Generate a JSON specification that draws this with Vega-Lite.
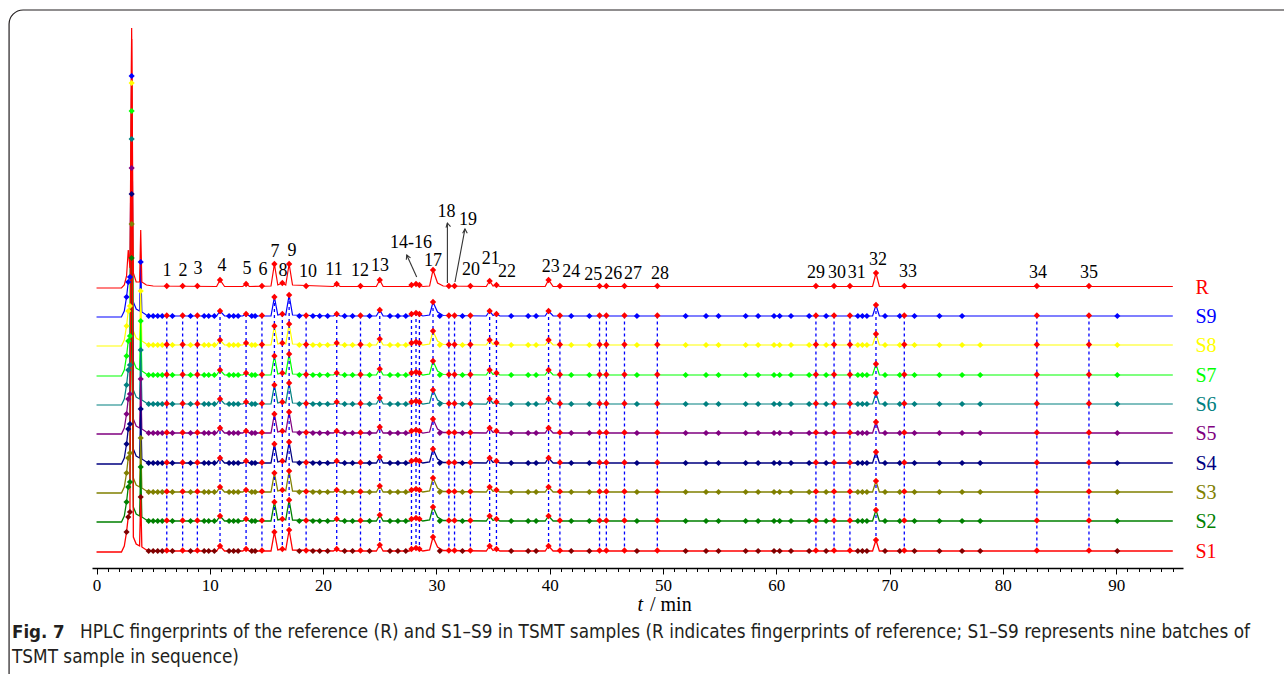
{
"$schema":"https://vega.github.io/schema/vega-lite/v6.json",
"autosize":{"type":"none"},
"padding":{"left":92,"top":18,"right":101,"bottom":106},
"width":1091,"height":550,
"background":"white",
"config":{"view":{"stroke":null}},
"datasets":{
"one":[{}],
"grid":[
{"t":0,"R":280,"S9":251,"S8":222,"S7":192,"S6":163,"S5":134,"S4":104,"S3":75,"S2":46,"S1":16},
{"t":2.2,"R":280,"S9":251,"S8":222,"S7":192,"S6":163,"S5":134,"S4":104,"S3":75,"S2":46,"S1":16},
{"t":2.45,"R":283,"S9":257,"S8":228,"S7":198,"S6":169,"S5":140,"S4":110,"S3":81,"S2":52,"S1":22},
{"t":2.65,"R":292,"S9":271,"S8":242,"S7":212,"S6":183,"S5":154,"S4":124,"S3":95,"S2":66,"S1":36},
{"t":2.8,"R":318,"S9":286,"S8":257,"S7":227,"S6":198,"S5":169,"S4":139,"S3":110,"S2":81,"S1":51},
{"t":2.95,"R":300,"S9":291,"S8":262,"S7":232,"S6":203,"S5":174,"S4":144,"S3":115,"S2":86,"S1":56},
{"t":3.1,"R":540,"S9":492,"S8":485,"S7":457,"S6":429,"S5":400,"S4":374,"S3":344,"S2":310,"S1":529},
{"t":3.25,"R":295,"S9":266,"S8":237,"S7":207,"S6":178,"S5":149,"S4":119,"S3":90,"S2":61,"S1":31},
{"t":3.5,"R":286,"S9":259,"S8":230,"S7":200,"S6":171,"S5":142,"S4":112,"S3":83,"S2":54,"S1":24},
{"t":3.8,"R":286,"S9":257,"S8":228,"S7":198,"S6":169,"S5":140,"S4":110,"S3":81,"S2":52,"S1":22},
{"t":3.9,"R":338,"S9":306,"S8":277,"S7":247,"S6":218,"S5":189,"S4":159,"S3":130,"S2":101,"S1":71},
{"t":4.0,"R":286,"S9":256,"S8":227,"S7":197,"S6":168,"S5":139,"S4":109,"S3":80,"S2":51,"S1":21},
{"t":4.4,"R":283,"S9":253,"S8":224,"S7":194,"S6":165,"S5":136,"S4":106,"S3":77,"S2":48,"S1":18},
{"t":5.0,"R":282,"S9":252,"S8":223,"S7":193,"S6":164,"S5":135,"S4":105,"S3":76,"S2":47,"S1":17},
{"t":10.6,"R":281.5,"S9":252,"S8":223,"S7":193,"S6":164,"S5":135,"S4":105,"S3":76,"S2":47,"S1":17},
{"t":10.9,"R":288,"S9":257,"S8":228,"S7":198,"S6":169,"S5":140,"S4":110,"S3":81,"S2":52,"S1":22},
{"t":11.3,"R":281.5,"S9":252,"S8":223,"S7":193,"S6":164,"S5":135,"S4":105,"S3":76,"S2":47,"S1":17},
{"t":12.9,"R":281.5,"S9":252,"S8":223,"S7":193,"S6":164,"S5":135,"S4":105,"S3":76,"S2":47,"S1":17},
{"t":13.2,"R":284,"S9":254,"S8":225,"S7":195,"S6":166,"S5":137,"S4":107,"S3":78,"S2":49,"S1":19},
{"t":13.5,"R":281.5,"S9":252,"S8":223,"S7":193,"S6":164,"S5":135,"S4":105,"S3":76,"S2":47,"S1":17},
{"t":15.4,"R":282,"S9":252,"S8":223,"S7":193,"S6":164,"S5":135,"S4":105,"S3":76,"S2":47,"S1":17},
{"t":15.7,"R":304,"S9":271,"S8":242,"S7":212,"S6":183,"S5":154,"S4":124,"S3":95,"S2":66,"S1":36},
{"t":16.0,"R":283,"S9":253,"S8":224,"S7":194,"S6":165,"S5":136,"S4":106,"S3":77,"S2":48,"S1":18},
{"t":16.4,"R":285,"S9":254,"S8":225,"S7":195,"S6":166,"S5":137,"S4":107,"S3":78,"S2":49,"S1":19},
{"t":16.7,"R":283,"S9":253,"S8":224,"S7":194,"S6":165,"S5":136,"S4":106,"S3":77,"S2":48,"S1":18},
{"t":17.0,"R":304,"S9":273,"S8":244,"S7":214,"S6":185,"S5":156,"S4":126,"S3":97,"S2":68,"S1":38},
{"t":17.3,"R":283,"S9":253,"S8":224,"S7":194,"S6":165,"S5":136,"S4":106,"S3":77,"S2":48,"S1":18},
{"t":20.9,"R":281.5,"S9":252,"S8":223,"S7":193,"S6":164,"S5":135,"S4":105,"S3":76,"S2":47,"S1":17},
{"t":21.2,"R":284,"S9":254,"S8":225,"S7":195,"S6":166,"S5":137,"S4":107,"S3":78,"S2":49,"S1":19},
{"t":21.5,"R":281.5,"S9":252,"S8":223,"S7":193,"S6":164,"S5":135,"S4":105,"S3":76,"S2":47,"S1":17},
{"t":24.7,"R":281.5,"S9":252,"S8":223,"S7":193,"S6":164,"S5":135,"S4":105,"S3":76,"S2":47,"S1":17},
{"t":25.0,"R":288,"S9":258,"S8":229,"S7":199,"S6":170,"S5":141,"S4":111,"S3":82,"S2":53,"S1":23},
{"t":25.3,"R":281.5,"S9":252,"S8":223,"S7":193,"S6":164,"S5":135,"S4":105,"S3":76,"S2":47,"S1":17},
{"t":27.6,"R":281.5,"S9":252,"S8":223,"S7":193,"S6":164,"S5":135,"S4":105,"S3":76,"S2":47,"S1":17},
{"t":28.2,"R":284,"S9":255,"S8":226,"S7":196,"S6":167,"S5":138,"S4":108,"S3":79,"S2":50,"S1":20},
{"t":28.8,"R":281.5,"S9":252,"S8":223,"S7":193,"S6":164,"S5":135,"S4":105,"S3":76,"S2":47,"S1":17},
{"t":29.4,"R":282,"S9":253,"S8":224,"S7":194,"S6":165,"S5":136,"S4":106,"S3":77,"S2":48,"S1":18},
{"t":29.7,"R":298,"S9":266,"S8":237,"S7":207,"S6":178,"S5":149,"S4":119,"S3":90,"S2":61,"S1":31},
{"t":30.1,"R":285,"S9":256,"S8":227,"S7":197,"S6":168,"S5":139,"S4":109,"S3":80,"S2":51,"S1":21},
{"t":30.6,"R":282,"S9":252.5,"S8":223.5,"S7":193.5,"S6":164.5,"S5":135.5,"S4":105.5,"S3":76.5,"S2":47.5,"S1":17.5},
{"t":34.4,"R":281.5,"S9":252,"S8":223,"S7":193,"S6":164,"S5":135,"S4":105,"S3":76,"S2":47,"S1":17},
{"t":34.7,"R":287,"S9":257,"S8":228,"S7":198,"S6":169,"S5":140,"S4":110,"S3":81,"S2":52,"S1":22},
{"t":35.0,"R":282,"S9":252.5,"S8":223.5,"S7":193.5,"S6":164.5,"S5":135.5,"S4":105.5,"S3":76.5,"S2":47.5,"S1":17.5},
{"t":35.3,"R":283,"S9":254,"S8":225,"S7":195,"S6":166,"S5":137,"S4":107,"S3":78,"S2":49,"S1":19},
{"t":35.6,"R":281.5,"S9":252,"S8":223,"S7":193,"S6":164,"S5":135,"S4":105,"S3":76,"S2":47,"S1":17},
{"t":39.6,"R":281.5,"S9":252,"S8":223,"S7":193,"S6":164,"S5":135,"S4":105,"S3":76,"S2":47,"S1":17},
{"t":39.9,"R":288,"S9":257,"S8":228,"S7":198,"S6":169,"S5":140,"S4":110,"S3":81,"S2":52,"S1":22},
{"t":40.3,"R":281.5,"S9":252,"S8":223,"S7":193,"S6":164,"S5":135,"S4":105,"S3":76,"S2":47,"S1":17},
{"t":68.5,"R":281.5,"S9":252,"S8":223,"S7":193,"S6":164,"S5":135,"S4":105,"S3":76,"S2":47,"S1":17},
{"t":68.8,"R":295,"S9":263,"S8":234,"S7":204,"S6":175,"S5":146,"S4":116,"S3":87,"S2":58,"S1":28},
{"t":69.1,"R":281.5,"S9":252,"S8":223,"S7":193,"S6":164,"S5":135,"S4":105,"S3":76,"S2":47,"S1":17},
{"t":95,"R":281.5,"S9":252,"S8":223,"S7":193,"S6":164,"S5":135,"S4":105,"S3":76,"S2":47,"S1":17}
],
"peaks":[
{"n":"1","t":6.2,"R":282,"S9":252.5,"S8":223.5,"S7":193.5,"S6":164.5,"S5":135.5,"S4":105.5,"S3":76.5,"S2":47.5,"S1":17.5},
{"n":"2","t":7.6,"R":282,"S9":252.5,"S8":223.5,"S7":193.5,"S6":164.5,"S5":135.5,"S4":105.5,"S3":76.5,"S2":47.5,"S1":17.5},
{"n":"3","t":8.9,"R":282,"S9":252.5,"S8":223.5,"S7":193.5,"S6":164.5,"S5":135.5,"S4":105.5,"S3":76.5,"S2":47.5,"S1":17.5},
{"n":"4","t":10.9,"R":288,"S9":257,"S8":228,"S7":198,"S6":169,"S5":140,"S4":110,"S3":81,"S2":52,"S1":22},
{"n":"5","t":13.2,"R":284,"S9":254,"S8":225,"S7":195,"S6":166,"S5":137,"S4":107,"S3":78,"S2":49,"S1":19},
{"n":"6","t":14.6,"R":282,"S9":252.5,"S8":223.5,"S7":193.5,"S6":164.5,"S5":135.5,"S4":105.5,"S3":76.5,"S2":47.5,"S1":17.5},
{"n":"7","t":15.7,"R":304,"S9":271,"S8":242,"S7":212,"S6":183,"S5":154,"S4":124,"S3":95,"S2":66,"S1":36},
{"n":"8","t":16.4,"R":285,"S9":254,"S8":225,"S7":195,"S6":166,"S5":137,"S4":107,"S3":78,"S2":49,"S1":19},
{"n":"9","t":17.0,"R":304,"S9":273,"S8":244,"S7":214,"S6":185,"S5":156,"S4":126,"S3":97,"S2":68,"S1":38},
{"n":"10","t":18.5,"R":282,"S9":252.5,"S8":223.5,"S7":193.5,"S6":164.5,"S5":135.5,"S4":105.5,"S3":76.5,"S2":47.5,"S1":17.5},
{"n":"11","t":21.2,"R":284,"S9":254,"S8":225,"S7":195,"S6":166,"S5":137,"S4":107,"S3":78,"S2":49,"S1":19},
{"n":"12","t":23.3,"R":282,"S9":252.5,"S8":223.5,"S7":193.5,"S6":164.5,"S5":135.5,"S4":105.5,"S3":76.5,"S2":47.5,"S1":17.5},
{"n":"13","t":25.0,"R":288,"S9":258,"S8":229,"S7":199,"S6":170,"S5":141,"S4":111,"S3":82,"S2":53,"S1":23},
{"n":"14","t":27.8,"R":283,"S9":254,"S8":225,"S7":195,"S6":166,"S5":137,"S4":107,"S3":78,"S2":49,"S1":19},
{"n":"15","t":28.2,"R":284,"S9":255,"S8":226,"S7":196,"S6":167,"S5":138,"S4":108,"S3":79,"S2":50,"S1":20},
{"n":"16","t":28.5,"R":283,"S9":254,"S8":225,"S7":195,"S6":166,"S5":137,"S4":107,"S3":78,"S2":49,"S1":19},
{"n":"17","t":29.7,"R":298,"S9":266,"S8":237,"S7":207,"S6":178,"S5":149,"S4":119,"S3":90,"S2":61,"S1":31},
{"n":"18","t":31.1,"R":282,"S9":252.5,"S8":223.5,"S7":193.5,"S6":164.5,"S5":135.5,"S4":105.5,"S3":76.5,"S2":47.5,"S1":17.5},
{"n":"19","t":31.6,"R":282,"S9":252.5,"S8":223.5,"S7":193.5,"S6":164.5,"S5":135.5,"S4":105.5,"S3":76.5,"S2":47.5,"S1":17.5},
{"n":"20","t":33.0,"R":282,"S9":252.5,"S8":223.5,"S7":193.5,"S6":164.5,"S5":135.5,"S4":105.5,"S3":76.5,"S2":47.5,"S1":17.5},
{"n":"21","t":34.7,"R":287,"S9":257,"S8":228,"S7":198,"S6":169,"S5":140,"S4":110,"S3":81,"S2":52,"S1":22},
{"n":"22","t":35.3,"R":283,"S9":254,"S8":225,"S7":195,"S6":166,"S5":137,"S4":107,"S3":78,"S2":49,"S1":19},
{"n":"23","t":39.9,"R":288,"S9":257,"S8":228,"S7":198,"S6":169,"S5":140,"S4":110,"S3":81,"S2":52,"S1":22},
{"n":"24","t":40.9,"R":282,"S9":252.5,"S8":223.5,"S7":193.5,"S6":164.5,"S5":135.5,"S4":105.5,"S3":76.5,"S2":47.5,"S1":17.5},
{"n":"25","t":44.4,"R":282,"S9":252.5,"S8":223.5,"S7":193.5,"S6":164.5,"S5":135.5,"S4":105.5,"S3":76.5,"S2":47.5,"S1":17.5},
{"n":"26","t":45.0,"R":282,"S9":252.5,"S8":223.5,"S7":193.5,"S6":164.5,"S5":135.5,"S4":105.5,"S3":76.5,"S2":47.5,"S1":17.5},
{"n":"27","t":46.6,"R":282,"S9":252.5,"S8":223.5,"S7":193.5,"S6":164.5,"S5":135.5,"S4":105.5,"S3":76.5,"S2":47.5,"S1":17.5},
{"n":"28","t":49.5,"R":282,"S9":252.5,"S8":223.5,"S7":193.5,"S6":164.5,"S5":135.5,"S4":105.5,"S3":76.5,"S2":47.5,"S1":17.5},
{"n":"29","t":63.5,"R":282,"S9":252.5,"S8":223.5,"S7":193.5,"S6":164.5,"S5":135.5,"S4":105.5,"S3":76.5,"S2":47.5,"S1":17.5},
{"n":"30","t":65.1,"R":282,"S9":252.5,"S8":223.5,"S7":193.5,"S6":164.5,"S5":135.5,"S4":105.5,"S3":76.5,"S2":47.5,"S1":17.5},
{"n":"31","t":66.5,"R":282,"S9":252.5,"S8":223.5,"S7":193.5,"S6":164.5,"S5":135.5,"S4":105.5,"S3":76.5,"S2":47.5,"S1":17.5},
{"n":"32","t":68.8,"R":295,"S9":263,"S8":234,"S7":204,"S6":175,"S5":146,"S4":116,"S3":87,"S2":58,"S1":28},
{"n":"33","t":71.3,"R":282,"S9":252.5,"S8":223.5,"S7":193.5,"S6":164.5,"S5":135.5,"S4":105.5,"S3":76.5,"S2":47.5,"S1":17.5},
{"n":"34","t":83.0,"R":282,"S9":252.5,"S8":223.5,"S7":193.5,"S6":164.5,"S5":135.5,"S4":105.5,"S3":76.5,"S2":47.5,"S1":17.5},
{"n":"35","t":87.6,"R":282,"S9":252.5,"S8":223.5,"S7":193.5,"S6":164.5,"S5":135.5,"S4":105.5,"S3":76.5,"S2":47.5,"S1":17.5}
],
"extras":[
{"t":2.65,"S9":271,"S8":242,"S7":212,"S6":183,"S5":154,"S4":124,"S3":95,"S2":66,"S1":36},
{"t":2.8,"S9":286,"S8":257,"S7":227,"S6":198,"S5":169,"S4":139,"S3":110,"S2":81,"S1":51},
{"t":2.95,"S9":291,"S8":262,"S7":232,"S6":203,"S5":174,"S4":144,"S3":115,"S2":86,"S1":56},
{"t":3.1,"S9":492,"S8":485,"S7":457,"S6":429,"S5":400,"S4":374,"S3":344,"S2":310},
{"t":3.9,"S9":306,"S8":277,"S7":247,"S6":218,"S5":189,"S4":159,"S3":130,"S2":101,"S1":71},
{"t":4.6,"S9":252,"S8":223,"S7":193,"S6":164,"S5":135,"S4":105,"S3":76,"S2":47,"S1":17},
{"t":5.0,"S9":252,"S8":223,"S7":193,"S6":164,"S5":135,"S4":105,"S3":76,"S2":47,"S1":17},
{"t":5.4,"S9":252,"S8":223,"S7":193,"S6":164,"S5":135,"S4":105,"S3":76,"S2":47,"S1":17},
{"t":5.8,"S9":252,"S8":223,"S7":193,"S6":164,"S5":135,"S4":105,"S3":76,"S2":47,"S1":17},
{"t":6.7,"S9":252,"S8":223,"S7":193,"S6":164,"S5":135,"S4":105,"S3":76,"S2":47,"S1":17},
{"t":8.3,"S9":252,"S8":223,"S7":193,"S6":164,"S5":135,"S4":105,"S3":76,"S2":47,"S1":17},
{"t":9.5,"S9":252,"S8":223,"S7":193,"S6":164,"S5":135,"S4":105,"S3":76,"S2":47,"S1":17},
{"t":9.9,"S9":252,"S8":223,"S7":193,"S6":164,"S5":135,"S4":105,"S3":76,"S2":47,"S1":17},
{"t":10.4,"S9":252,"S8":223,"S7":193,"S6":164,"S5":135,"S4":105,"S3":76,"S2":47,"S1":17},
{"t":11.7,"S9":252,"S8":223,"S7":193,"S6":164,"S5":135,"S4":105,"S3":76,"S2":47,"S1":17},
{"t":12.1,"S9":252,"S8":223,"S7":193,"S6":164,"S5":135,"S4":105,"S3":76,"S2":47,"S1":17},
{"t":12.5,"S9":252,"S8":223,"S7":193,"S6":164,"S5":135,"S4":105,"S3":76,"S2":47,"S1":17},
{"t":13.7,"S9":252,"S8":223,"S7":193,"S6":164,"S5":135,"S4":105,"S3":76,"S2":47,"S1":17},
{"t":14.0,"S9":252,"S8":223,"S7":193,"S6":164,"S5":135,"S4":105,"S3":76,"S2":47,"S1":17},
{"t":17.9,"S9":252,"S8":223,"S7":193,"S6":164,"S5":135,"S4":105,"S3":76,"S2":47,"S1":17},
{"t":19.1,"S9":252,"S8":223,"S7":193,"S6":164,"S5":135,"S4":105,"S3":76,"S2":47,"S1":17},
{"t":19.7,"S9":252,"S8":223,"S7":193,"S6":164,"S5":135,"S4":105,"S3":76,"S2":47,"S1":17},
{"t":20.4,"S9":252,"S8":223,"S7":193,"S6":164,"S5":135,"S4":105,"S3":76,"S2":47,"S1":17},
{"t":21.9,"S9":252,"S8":223,"S7":193,"S6":164,"S5":135,"S4":105,"S3":76,"S2":47,"S1":17},
{"t":22.6,"S9":252,"S8":223,"S7":193,"S6":164,"S5":135,"S4":105,"S3":76,"S2":47,"S1":17},
{"t":24.1,"S9":252,"S8":223,"S7":193,"S6":164,"S5":135,"S4":105,"S3":76,"S2":47,"S1":17},
{"t":25.9,"S9":252,"S8":223,"S7":193,"S6":164,"S5":135,"S4":105,"S3":76,"S2":47,"S1":17},
{"t":26.6,"S9":252,"S8":223,"S7":193,"S6":164,"S5":135,"S4":105,"S3":76,"S2":47,"S1":17},
{"t":27.3,"S9":252,"S8":223,"S7":193,"S6":164,"S5":135,"S4":105,"S3":76,"S2":47,"S1":17},
{"t":30.3,"S9":252,"S8":223,"S7":193,"S6":164,"S5":135,"S4":105,"S3":76,"S2":47,"S1":17},
{"t":32.3,"S9":252,"S8":223,"S7":193,"S6":164,"S5":135,"S4":105,"S3":76,"S2":47,"S1":17},
{"t":36.6,"S9":252,"S8":223,"S7":193,"S6":164,"S5":135,"S4":105,"S3":76,"S2":47,"S1":17},
{"t":38.1,"S9":252,"S8":223,"S7":193,"S6":164,"S5":135,"S4":105,"S3":76,"S2":47,"S1":17},
{"t":38.8,"S9":252,"S8":223,"S7":193,"S6":164,"S5":135,"S4":105,"S3":76,"S2":47,"S1":17},
{"t":41.9,"S9":252,"S8":223,"S7":193,"S6":164,"S5":135,"S4":105,"S3":76,"S2":47,"S1":17},
{"t":43.5,"S9":252,"S8":223,"S7":193,"S6":164,"S5":135,"S4":105,"S3":76,"S2":47,"S1":17},
{"t":47.7,"S9":252,"S8":223,"S7":193,"S6":164,"S5":135,"S4":105,"S3":76,"S2":47,"S1":17},
{"t":52.0,"S9":252,"S8":223,"S7":193,"S6":164,"S5":135,"S4":105,"S3":76,"S2":47,"S1":17},
{"t":53.8,"S9":252,"S8":223,"S7":193,"S6":164,"S5":135,"S4":105,"S3":76,"S2":47,"S1":17},
{"t":54.9,"S9":252,"S8":223,"S7":193,"S6":164,"S5":135,"S4":105,"S3":76,"S2":47,"S1":17},
{"t":57.3,"S9":252,"S8":223,"S7":193,"S6":164,"S5":135,"S4":105,"S3":76,"S2":47,"S1":17},
{"t":58.4,"S9":252,"S8":223,"S7":193,"S6":164,"S5":135,"S4":105,"S3":76,"S2":47,"S1":17},
{"t":59.8,"S9":252,"S8":223,"S7":193,"S6":164,"S5":135,"S4":105,"S3":76,"S2":47,"S1":17},
{"t":60.3,"S9":252,"S8":223,"S7":193,"S6":164,"S5":135,"S4":105,"S3":76,"S2":47,"S1":17},
{"t":61.3,"S9":252,"S8":223,"S7":193,"S6":164,"S5":135,"S4":105,"S3":76,"S2":47,"S1":17},
{"t":62.9,"S9":252,"S8":223,"S7":193,"S6":164,"S5":135,"S4":105,"S3":76,"S2":47,"S1":17},
{"t":64.4,"S9":252,"S8":223,"S7":193,"S6":164,"S5":135,"S4":105,"S3":76,"S2":47,"S1":17},
{"t":67.2,"S9":252,"S8":223,"S7":193,"S6":164,"S5":135,"S4":105,"S3":76,"S2":47,"S1":17},
{"t":67.6,"S9":252,"S8":223,"S7":193,"S6":164,"S5":135,"S4":105,"S3":76,"S2":47,"S1":17},
{"t":68.0,"S9":252,"S8":223,"S7":193,"S6":164,"S5":135,"S4":105,"S3":76,"S2":47,"S1":17},
{"t":69.6,"S9":252,"S8":223,"S7":193,"S6":164,"S5":135,"S4":105,"S3":76,"S2":47,"S1":17},
{"t":70.9,"S9":252,"S8":223,"S7":193,"S6":164,"S5":135,"S4":105,"S3":76,"S2":47,"S1":17},
{"t":72.2,"S9":252,"S8":223,"S7":193,"S6":164,"S5":135,"S4":105,"S3":76,"S2":47,"S1":17},
{"t":74.4,"S9":252,"S8":223,"S7":193,"S6":164,"S5":135,"S4":105,"S3":76,"S2":47,"S1":17},
{"t":76.4,"S9":252,"S8":223,"S7":193,"S6":164,"S5":135,"S4":105,"S3":76,"S2":47,"S1":17},
{"t":78.0,"S8":223,"S7":193,"S6":164,"S5":135,"S4":105,"S3":76,"S2":47,"S1":17},
{"t":90.1,"S9":252,"S8":223,"S7":193,"S6":164,"S5":135,"S4":105,"S3":76,"S2":47,"S1":17}
],
"labels":[
{"lab":"1","t":6.22,"y":297},{"lab":"2","t":7.63,"y":297},{"lab":"3","t":8.96,"y":299},
{"lab":"4","t":11.08,"y":302},{"lab":"5","t":13.28,"y":299},{"lab":"6","t":14.69,"y":298},
{"lab":"7","t":15.75,"y":316},{"lab":"8","t":16.46,"y":297},{"lab":"9","t":17.26,"y":317},
{"lab":"10","t":18.67,"y":296},{"lab":"11","t":20.96,"y":298},{"lab":"12","t":23.26,"y":297},
{"lab":"13","t":25.02,"y":302},{"lab":"14-16","t":27.76,"y":325},{"lab":"17","t":29.7,"y":307},
{"lab":"18","t":30.9,"y":356},{"lab":"19","t":32.79,"y":348},{"lab":"20","t":33.05,"y":298},
{"lab":"21","t":34.8,"y":309},{"lab":"22","t":36.23,"y":296},{"lab":"23","t":40.1,"y":301},
{"lab":"24","t":41.9,"y":296},{"lab":"25","t":43.85,"y":293},{"lab":"26","t":45.6,"y":294},
{"lab":"27","t":47.35,"y":294},{"lab":"28","t":49.73,"y":294},{"lab":"29","t":63.5,"y":295},
{"lab":"30","t":65.36,"y":295},{"lab":"31","t":67.1,"y":295},{"lab":"32","t":68.97,"y":308},
{"lab":"33","t":71.63,"y":296},{"lab":"34","t":83.1,"y":295},{"lab":"35","t":87.6,"y":295}
],
"arrows":[
{"lab":"14-16","t1":28.26,"y1":291,"t2":27.38,"y2":313},
{"lab":"18","t1":30.97,"y1":285,"t2":30.97,"y2":345},
{"lab":"19","t1":31.64,"y1":286,"t2":32.52,"y2":339}
],
"traces":[
{"trace":"R","base":280},{"trace":"S9","base":251},{"trace":"S8","base":222},{"trace":"S7","base":192},
{"trace":"S6","base":163},{"trace":"S5","base":134},{"trace":"S4","base":104},{"trace":"S3","base":75},
{"trace":"S2","base":46},{"trace":"S1","base":16}
]
},
"resolve":{"scale":{"color":"independent"},"axis":{"x":"independent"}},
"layer":[
{"data":{"name":"one"},
 "mark":{"type":"rect","fill":"white","fillOpacity":0,"stroke":"#231F20","strokeWidth":1.2,"cornerRadius":14},
 "encoding":{
  "x":{"datum":-7.72,"type":"quantitative","scale":{"domain":[-0.4,95.9],"nice":false,"zero":false},"axis":null},
  "x2":{"datum":140},
  "y":{"datum":558,"type":"quantitative","scale":{"domain":[0,550],"nice":false,"zero":false},"axis":null},
  "y2":{"datum":-400}}},
{"data":{"name":"grid"},
 "transform":[{"fold":["S9","S8","S7","S6","S5","S4","S3","S2","S1","R"],"as":["trace","y"]}],
 "mark":{"type":"line","interpolate":"linear"},
 "encoding":{
  "x":{"field":"t","type":"quantitative","scale":{"domain":[-0.4,95.9],"nice":false,"zero":false},
       "axis":{"orient":"bottom","values":[0,10,20,30,40,50,60,70,80,90],"title":null,"grid":false,"labelFont":"Liberation Serif","labelFontSize":17,"labelColor":"#000","tickColor":"#000","tickSize":6,"tickWidth":1,"domainColor":"#000","domainWidth":1.5,"labelPadding":3}},
  "y":{"field":"y","type":"quantitative","scale":{"domain":[0,550],"nice":false,"zero":false},"axis":null},
  "color":{"field":"trace","type":"nominal","legend":null,
     "scale":{"domain":["R","S9","S8","S7","S6","S5","S4","S3","S2","S1"],
              "range":["#FF0000","#0000FF","#FFFF00","#00FF00","#008080","#800080","#000080","#808000","#008000","#FF0000"]}},
  "strokeWidth":{"field":"trace","type":"nominal","legend":null,
     "scale":{"domain":["R","S9","S8","S7","S6","S5","S4","S3","S2","S1"],"range":[1.2,1.3,1.3,1.3,1.3,1.3,1.3,1.3,1.3,2.2]}}}},
{"data":{"name":"peaks"},
 "mark":{"type":"rule","color":"#0000FF","strokeDash":[3,3],"strokeWidth":1.3},
 "encoding":{
  "x":{"field":"t","type":"quantitative","scale":{"domain":[-0.4,95.9],"nice":false,"zero":false},
       "axis":{"orient":"bottom","values":[0,1,2,3,4,5,6,7,8,9,10,11,12,13,14,15,16,17,18,19,20,21,22,23,24,25,26,27,28,29,30,31,32,33,34,35,36,37,38,39,40,41,42,43,44,45,46,47,48,49,50,51,52,53,54,55,56,57,58,59,60,61,62,63,64,65,66,67,68,69,70,71,72,73,74,75,76,77,78,79,80,81,82,83,84,85,86,87,88,89,90,91,92,93,94,95],
               "labels":false,"domain":false,"grid":false,"title":null,"tickColor":"#000","tickSize":3.5,"tickWidth":1}},
  "y":{"field":"S9","type":"quantitative","scale":{"domain":[0,550],"nice":false,"zero":false},"axis":null},
  "y2":{"field":"S1"}}},
{"data":{"name":"extras"},
 "transform":[{"fold":["S9","S8","S7","S6","S5","S4","S3","S2","S1"],"as":["trace","y"]}],
 "mark":{"type":"point","shape":"diamond","filled":true,"size":38,"opacity":1},
 "encoding":{
  "x":{"field":"t","type":"quantitative","scale":{"domain":[-0.4,95.9],"nice":false,"zero":false},"axis":null},
  "y":{"field":"y","type":"quantitative","scale":{"domain":[0,550],"nice":false,"zero":false},"axis":null},
  "color":{"field":"trace","type":"nominal","legend":null,
     "scale":{"domain":["S9","S8","S7","S6","S5","S4","S3","S2","S1"],
              "range":["#0000FF","#FFFF00","#00FF00","#008080","#800080","#000080","#808000","#008000","#800000"]}}}},
{"data":{"name":"peaks"},
 "transform":[{"fold":["R","S9","S8","S7","S6","S5","S4","S3","S2","S1"],"as":["trace","y"]}],
 "mark":{"type":"point","shape":"diamond","filled":true,"size":40,"opacity":1,"color":"#FF0000"},
 "encoding":{
  "x":{"field":"t","type":"quantitative","scale":{"domain":[-0.4,95.9],"nice":false,"zero":false},"axis":null},
  "y":{"field":"y","type":"quantitative","scale":{"domain":[0,550],"nice":false,"zero":false},"axis":null}}},
{"data":{"name":"labels"},
 "mark":{"type":"text","font":"Liberation Serif","fontSize":18,"color":"#000","align":"center","baseline":"middle"},
 "encoding":{
  "x":{"field":"t","type":"quantitative","scale":{"domain":[-0.4,95.9],"nice":false,"zero":false},"axis":null},
  "y":{"field":"y","type":"quantitative","scale":{"domain":[0,550],"nice":false,"zero":false},"axis":null},
  "text":{"field":"lab","type":"nominal"}}},
{"data":{"name":"arrows"},
 "mark":{"type":"rule","color":"#333","strokeWidth":1.1},
 "encoding":{
  "x":{"field":"t1","type":"quantitative","scale":{"domain":[-0.4,95.9],"nice":false,"zero":false},"axis":null},
  "x2":{"field":"t2"},
  "y":{"field":"y1","type":"quantitative","scale":{"domain":[0,550],"nice":false,"zero":false},"axis":null},
  "y2":{"field":"y2"}}},
{"data":{"name":"arrows"},
 "mark":{"type":"point","shape":"M-0.55,1L0,0L0.55,1","filled":false,"stroke":"#333","strokeWidth":1.1,"size":70,"opacity":1},
 "encoding":{
  "x":{"field":"t2","type":"quantitative","scale":{"domain":[-0.4,95.9],"nice":false,"zero":false},"axis":null},
  "y":{"field":"y2","type":"quantitative","scale":{"domain":[0,550],"nice":false,"zero":false},"axis":null},
  "angle":{"field":"lab","type":"ordinal","legend":null,"scale":{"domain":["14-16","18","19"],"range":[-24,0,11]}}}},
{"data":{"name":"traces"},
 "mark":{"type":"text","font":"Liberation Serif","fontSize":20,"align":"left","baseline":"middle"},
 "encoding":{
  "x":{"datum":97.0,"type":"quantitative","scale":{"domain":[-0.4,95.9],"nice":false,"zero":false},"axis":null},
  "y":{"field":"base","type":"quantitative","scale":{"domain":[0,550],"nice":false,"zero":false},"axis":null},
  "text":{"field":"trace","type":"nominal"},
  "color":{"field":"trace","type":"nominal","legend":null,
     "scale":{"domain":["R","S9","S8","S7","S6","S5","S4","S3","S2","S1"],
              "range":["#FF0000","#0000FF","#FFFF00","#00FF00","#008080","#800080","#000080","#808000","#008000","#FF0000"]}}}},
{"data":{"name":"one"},
 "mark":{"type":"text","text":"t","font":"Liberation Serif","fontStyle":"italic","fontSize":20,"color":"#000","align":"center","baseline":"middle"},
 "encoding":{"x":{"datum":48.0,"type":"quantitative","scale":{"domain":[-0.4,95.9],"nice":false,"zero":false},"axis":null},
  "y":{"datum":-37,"type":"quantitative","scale":{"domain":[0,550],"nice":false,"zero":false},"axis":null}}},
{"data":{"name":"one"},
 "mark":{"type":"text","text":"/ min","font":"Liberation Serif","fontSize":20,"color":"#000","align":"left","baseline":"middle"},
 "encoding":{"x":{"datum":48.85,"type":"quantitative","scale":{"domain":[-0.4,95.9],"nice":false,"zero":false},"axis":null},
  "y":{"datum":-37,"type":"quantitative","scale":{"domain":[0,550],"nice":false,"zero":false},"axis":null}}},
{"data":{"name":"one"},
 "mark":{"type":"text","text":"Fig. 7","font":"DejaVu Sans Condensed, sans-serif","fontWeight":"bold","fontSize":18.5,"color":"#231F20","align":"left","baseline":"middle"},
 "encoding":{"x":{"datum":-7.46,"type":"quantitative","scale":{"domain":[-0.4,95.9],"nice":false,"zero":false},"axis":null},
  "y":{"datum":-64,"type":"quantitative","scale":{"domain":[0,550],"nice":false,"zero":false},"axis":null}}},
{"data":{"name":"one"},
 "mark":{"type":"text","text":"HPLC fingerprints of the reference (R) and S1–S9 in TSMT samples (R indicates fingerprints of reference; S1–S9 represents nine batches of","font":"DejaVu Sans Condensed, sans-serif","fontSize":18.8,"color":"#231F20","align":"left","baseline":"middle"},
 "encoding":{"x":{"datum":-1.45,"type":"quantitative","scale":{"domain":[-0.4,95.9],"nice":false,"zero":false},"axis":null},
  "y":{"datum":-64,"type":"quantitative","scale":{"domain":[0,550],"nice":false,"zero":false},"axis":null}}},
{"data":{"name":"one"},
 "mark":{"type":"text","text":"TSMT sample in sequence)","font":"DejaVu Sans Condensed, sans-serif","fontSize":18.8,"color":"#231F20","align":"left","baseline":"middle"},
 "encoding":{"x":{"datum":-7.46,"type":"quantitative","scale":{"domain":[-0.4,95.9],"nice":false,"zero":false},"axis":null},
  "y":{"datum":-89,"type":"quantitative","scale":{"domain":[0,550],"nice":false,"zero":false},"axis":null}}}
]
}
